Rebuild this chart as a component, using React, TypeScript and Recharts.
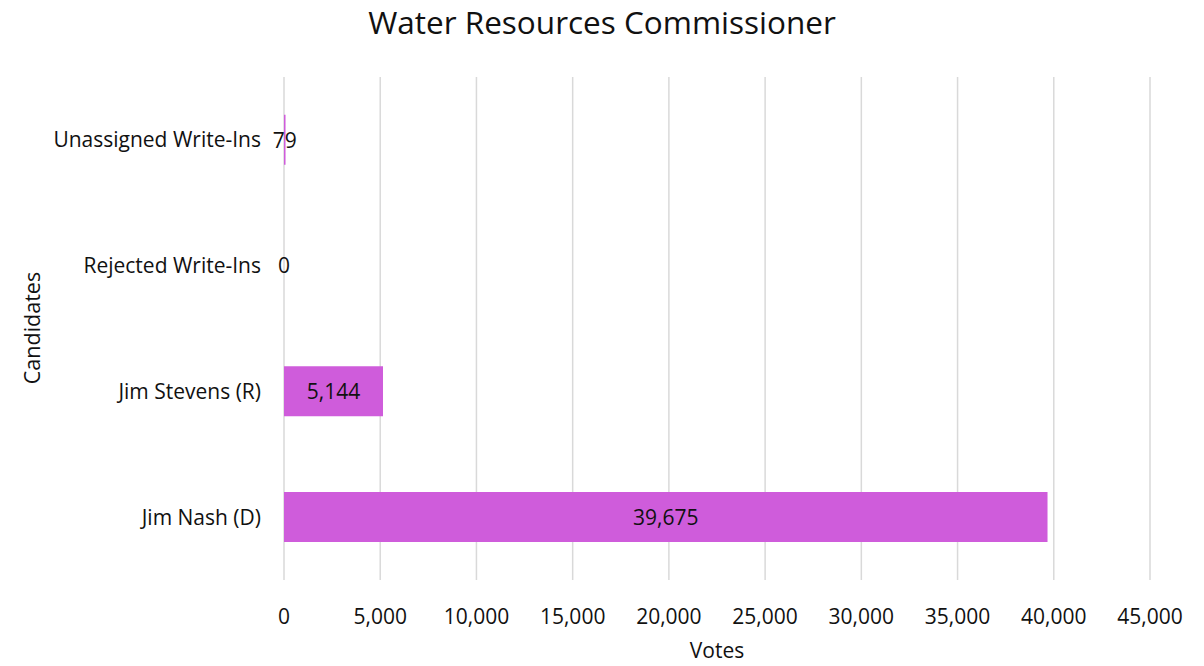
import React from 'react';
import { BarChart, Bar, XAxis, YAxis, CartesianGrid, LabelList } from 'recharts';

// top-to-bottom order, as shown in the chart
const candidates = ['Unassigned Write-Ins', 'Rejected Write-Ins', 'Jim Stevens (R)', 'Jim Nash (D)'];
const votes = [79, 0, 5144, 39675];
const voteTicks = [0, 5000, 10000, 15000, 20000, 25000, 30000, 35000, 40000, 45000];

const data = candidates.map((name, i) => ({ name, votes: votes[i] }));

const FONT = '"Open Sans", sans-serif';
const TEXT = '#111';
const fmt = (v: number) => v.toLocaleString('en-US');

// centred value label; drawn by hand so a zero-width bar still gets its "0"
const ValueLabel = (props: any) => {
  const vb = props.viewBox || {};
  const x = Number(props.x ?? vb.x);
  const y = Number(props.y ?? vb.y);
  const width = Number(props.width ?? vb.width ?? 0);
  const height = Number(props.height ?? vb.height ?? 0);
  return (
    <text
      x={x + width / 2}
      y={y + height / 2}
      textAnchor="middle"
      dominantBaseline="central"
      fill={TEXT}
      fontSize={21}
      fontFamily={FONT}
    >
      {fmt(Number(props.value))}
    </text>
  );
};

export default function App() {
  return (
    <div style={{ position: 'absolute', left: 0, top: 0, width: 1204, height: 666, background: '#fff', fontFamily: FONT }}>
      <div style={{ position: 'absolute', left: 0, width: 1204, top: 0, textAlign: 'center', fontSize: 31.5, color: TEXT }}>
        Water Resources Commissioner
      </div>
      <div style={{ position: 'absolute', left: 31, top: 328, transform: 'translate(-50%, -50%) rotate(-90deg)', fontSize: 21.5, color: TEXT, whiteSpace: 'nowrap' }}>
        Candidates
      </div>
      <div style={{ position: 'absolute', left: 717, top: 650, transform: 'translate(-50%, -50%)', fontSize: 21, color: TEXT }}>
        Votes
      </div>
      <div style={{ position: 'absolute', left: 0, top: 0 }}>
        <BarChart
          width={1204}
          height={666}
          data={data}
          layout="vertical"
          barCategoryGap="30%"
          margin={{ top: 77, right: 54, bottom: 26, left: 0 }}
        >
          <CartesianGrid horizontal={false} stroke="#d9d9d9" strokeWidth={1.5} />
          <XAxis
            type="number"
            domain={[0, 45000]}
            ticks={voteTicks}
            tickFormatter={fmt}
            axisLine={false}
            tickLine={false}
            tickSize={0}
            tickMargin={29}
            height={60}
            interval={0}
            tick={{ fill: TEXT, fontSize: 21, fontFamily: FONT }}
          />
          <YAxis
            type="category"
            dataKey="name"
            width={284}
            axisLine={false}
            tickLine={false}
            tickSize={0}
            tickMargin={23}
            interval={0}
            tick={{ fill: TEXT, fontSize: 21, fontFamily: FONT }}
          />
          <Bar dataKey="votes" fill="#cf5cdb" minPointSize={0.01} isAnimationActive={false}>
            <LabelList dataKey="votes" content={ValueLabel} />
          </Bar>
        </BarChart>
      </div>
    </div>
  );
}
